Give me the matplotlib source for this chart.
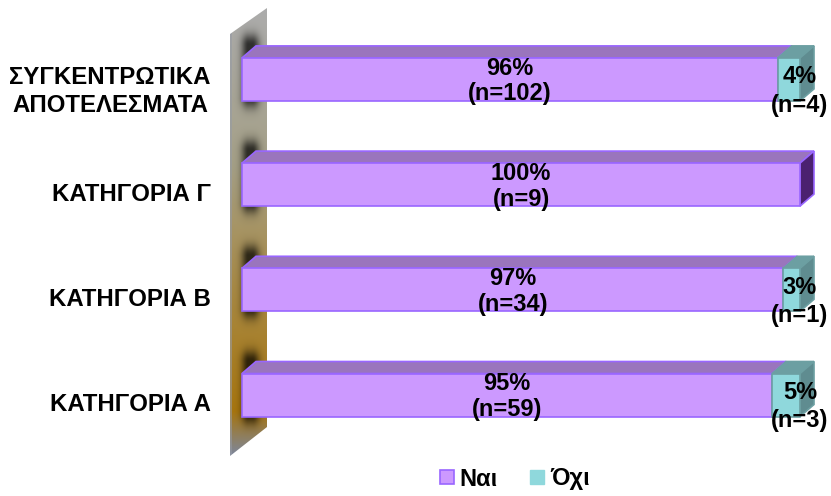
#!/usr/bin/env python
# -*- coding: utf-8 -*-

import numpy as np
import matplotlib
matplotlib.use("Agg")
import matplotlib.pyplot as plt
from matplotlib.patches import Polygon, Rectangle
from matplotlib.lines import Line2D

plt.rcParams['font.family'] = ['Liberation Sans', 'DejaVu Sans']

categories = ['ΚΑΤΗΓΟΡΙΑ Α', 'ΚΑΤΗΓΟΡΙΑ Β', 'ΚΑΤΗΓΟΡΙΑ Γ', 'ΣΥΓΚΕΝΤΡΩΤΙΚΑ\nΑΠΟΤΕΛΕΣΜΑΤΑ']
yes_pct = [95, 97, 100, 96]
no_pct = [5, 3, 0, 4]
yes_n = [59, 34, 9, 102]
no_n = [3, 1, 0, 4]
legend_labels = ['Ναι', 'Όχι']

W, H = 831, 496
PX_LEFT, PX_RIGHT = 242, 800
ROW_PX = 105.2
BAR_PX = 43
DX_PX, DY_PX = 14, 12

x_per_px = 100 / (PX_RIGHT - PX_LEFT)
y_per_px = 1 / ROW_PX

fig = plt.figure(figsize=(W / 100, H / 100), dpi=100)
ax = fig.add_axes([0, 0, 1, 1])
XLIM = (-PX_LEFT * x_per_px, (W - PX_LEFT) * x_per_px)
# category 0 is centred at y=395 px
YLIM = ((395 - H) * y_per_px, 395 * y_per_px)
ax.axis('off')

dx = DX_PX * x_per_px
dy = DY_PX * y_per_px
bar_h = BAR_PX * y_per_px


def px_x(v):
    return (v - PX_LEFT) * x_per_px


def px_y(v):
    return (395 - v) * y_per_px


# wall with its gradient and blurred bar shadows
wall_x = np.arange(228, 270)
wall_y = np.arange(4, 460)
xx, yy = np.meshgrid(wall_x, wall_y)
stops = np.array([0, 0.35, 0.62, 0.90, 1.0])
reds = np.array([172, 165, 168, 168, 125])
greens = np.array([172, 160, 138, 118, 135])
blues = np.array([172, 135, 70, 15, 160])
t = (wall_y - 8) / (456 - 8.0)
base = np.stack([np.interp(t, stops, c) for c in (reds, greens, blues)], axis=-1)
img = np.repeat(base[:, None, :], len(wall_x), axis=1)
shade = np.ones(xx.shape)
for i in range(len(categories)):
    cy = 395 - i * ROW_PX - 8
    blob = np.exp(-(np.maximum(np.abs(xx - 250) - 2, 0) / 7.0) ** 2) * np.exp(-(np.maximum(np.abs(yy - cy) - 26, 0) / 11.0) ** 2)
    shade *= 1 - 0.72 * blob
img = img * shade[:, :, None]
edge = xx < 232
img[edge] = 0.4 * img[edge] + 0.6 * np.array([150, 155, 165])
wall_im = ax.imshow(img.astype(np.uint8), extent=[px_x(228), px_x(270), px_y(460), px_y(4)],
                    aspect='auto', zorder=1, interpolation='bilinear')
wall_poly = Polygon([(px_x(230), px_y(34)), (px_x(267), px_y(8)), (px_x(267), px_y(427)), (px_x(230), px_y(456))],
                    closed=True, transform=ax.transData, fill=False, edgecolor='none')
ax.add_patch(wall_poly)
wall_im.set_clip_path(wall_poly)
ax.set_xlim(*XLIM)
ax.set_ylim(*YLIM)


def draw_box(x0, x1, y, front, top, side, edge, z):
    lo, hi = y - bar_h / 2, y + bar_h / 2
    ax.add_patch(Polygon([(x0, hi), (x1, hi), (x1 + dx, hi + dy), (x0 + dx, hi + dy)],
                         facecolor=top, edgecolor=edge, linewidth=1.2, zorder=z))
    ax.add_patch(Polygon([(x1, lo), (x1 + dx, lo + dy), (x1 + dx, hi + dy), (x1, hi)],
                         facecolor=side, edgecolor=edge, linewidth=1.2, zorder=z))
    ax.add_patch(Rectangle((x0, lo), x1 - x0, hi - lo, facecolor=front, edgecolor=edge,
                           linewidth=1.2, zorder=z + 0.1))


PURPLE = '#cc99ff'
PURPLE_TOP = '#9a75bd'
PURPLE_SIDE = '#4b2170'
PURPLE_EDGE = '#9966ff'
TEAL = '#8fd8dc'
TEAL_TOP = '#6c9fa2'
TEAL_SIDE = '#5f8c90'

for i in range(len(categories)):
    side = PURPLE_SIDE if no_pct[i] == 0 else PURPLE_TOP
    draw_box(0, yes_pct[i], i, PURPLE, PURPLE_TOP, side, PURPLE_EDGE, 3)
    if no_pct[i] > 0:
        draw_box(yes_pct[i], 100, i, TEAL, TEAL_TOP, TEAL_SIDE, TEAL_TOP, 4)
    ax.text(yes_pct[i] / 2, i - 0.015, '%d%%\n(n=%d)' % (yes_pct[i], yes_n[i]), ha='center', va='center',
            fontsize=17, fontweight='bold', color='black', zorder=6, linespacing=1.15)
    if no_pct[i] > 0:
        ax.text(100, i - 0.11, '%d%%\n(n=%d)' % (no_pct[i], no_n[i]), ha='center', va='center',
                fontsize=17, fontweight='bold', color='black', zorder=6, linespacing=1.3)
    ax.text(px_x(211), i - (0.115 if i == 3 else 0.095), categories[i], ha='right', va='center', multialignment='center',
            fontsize=17.3, fontweight='bold', color='black', zorder=6, linespacing=1.3)

# legend
handles = [Line2D([], [], linestyle='none', marker='s', markersize=9.5, markerfacecolor=PURPLE,
                  markeredgecolor=PURPLE_EDGE, markeredgewidth=1.2),
           Line2D([], [], linestyle='none', marker='s', markersize=9.5, markerfacecolor=TEAL,
                  markeredgecolor=TEAL)]
fig.legend(handles, legend_labels, loc='center', bbox_to_anchor=(514 / W, 1 - 479 / H), ncol=2, frameon=False,
           prop={'size': 17, 'weight': 'bold'}, handlelength=0.7, handletextpad=0.2, columnspacing=1.3)

fig.savefig('out.png', dpi=100)
